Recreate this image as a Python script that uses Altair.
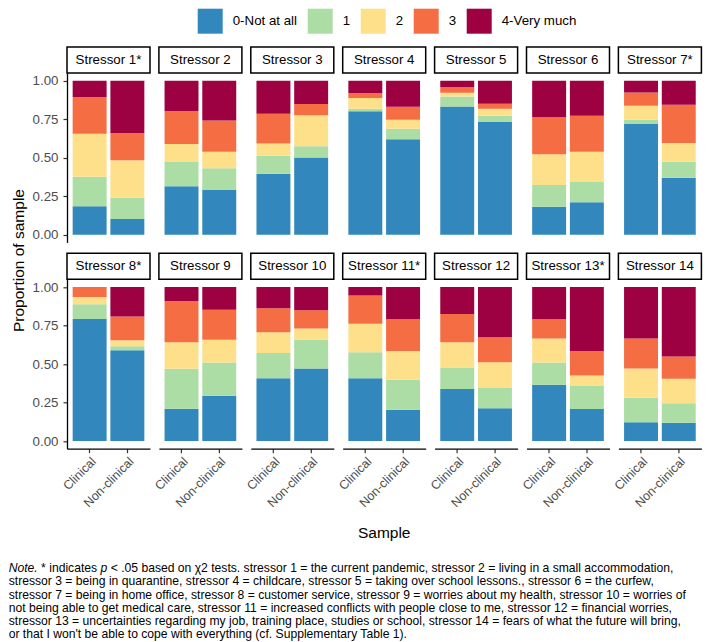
import altair as alt
import pandas as pd

FONT = "Liberation Sans"

stressors = ["Stressor 1*", "Stressor 2", "Stressor 3", "Stressor 4", "Stressor 5",
             "Stressor 6", "Stressor 7*", "Stressor 8*", "Stressor 9", "Stressor 10",
             "Stressor 11*", "Stressor 12", "Stressor 13*", "Stressor 14"]
samples = ["Clinical", "Non-clinical"]
levels = ["0-Not at all", "1", "2", "3", "4-Very much"]
colors = ["#3288BD", "#ABDDA4", "#FEE08B", "#F46D43", "#9E0142"]
x_title = "Sample"
y_title = "Proportion of sample"

clinical_0 = [.184, .314, .396, .801, .833, .182, .719, .793, .209, .408, .408, .338, .366, .121]
clinical_1 = [.193, .158, .117, .017, .065, .141, .028, .095, .260, .164, .169, .139, .144, .160]
clinical_2 = [.279, .117, .080, .069, .024, .199, .091, .047, .172, .134, .185, .164, .155, .189]
clinical_3 = [.238, .214, .193, .033, .035, .240, .086, .065, .268, .156, .182, .184, .125, .195]
clinical_4 = [.106, .197, .214, .080, .043, .238, .076, .000, .091, .138, .056, .175, .210, .335]

nonclinical_0 = [.102, .290, .502, .619, .732, .210, .370, .590, .294, .470, .203, .212, .208, .119]
nonclinical_1 = [.138, .141, .072, .069, .041, .132, .104, .026, .216, .189, .194, .132, .149, .126]
nonclinical_2 = [.243, .108, .201, .059, .045, .197, .121, .038, .147, .071, .188, .168, .069, .160]
nonclinical_3 = [.177, .203, .073, .084, .033, .234, .249, .154, .196, .119, .206, .162, .159, .144]
nonclinical_4 = [.340, .258, .152, .169, .149, .227, .156, .192, .147, .151, .209, .326, .415, .451]

note_line1_parts = ["Note.", "* indicates", "p",
                    "< .05 based on \u03c72 tests. stressor 1 = the current pandemic, stressor 2 = living in a small accommodation,"]
note_lines_rest = [
    "stressor 3 = being in quarantine, stressor 4 = childcare, stressor 5 = taking over school lessons., stressor 6 = the curfew,",
    "stressor 7 = being in home office, stressor 8 = customer service, stressor 9 = worries about my health, stressor 10 = worries of",
    "not being able to get medical care, stressor 11 = increased conflicts with people close to me, stressor 12 = financial worries,",
    "stressor 13 = uncertainties regarding my job, training place, studies or school, stressor 14 = fears of what the future will bring,",
    "or that I won't be able to cope with everything (cf. Supplementary Table 1).",
]

# ---- build table
series = {
    "Clinical": [clinical_0, clinical_1, clinical_2, clinical_3, clinical_4],
    "Non-clinical": [nonclinical_0, nonclinical_1, nonclinical_2, nonclinical_3, nonclinical_4],
}
rows = []
for si, st in enumerate(stressors):
    for sm in samples:
        for li, lv in enumerate(levels):
            rows.append({"stressor": st, "sample": sm, "level": lv, "idx": li,
                         "value": series[sm][li][si]})
df = pd.DataFrame(rows)

PW, PH = 83, 169.4
STRIP = 26
ROWGAP = 36.3
NCOL = 7

one = "datum.idx == 0 && datum.sample == 'Clinical'"


def make_panel(i):
    r, c = divmod(i, NCOL)
    xaxis = alt.Axis(labelAngle=-45, labelAlign="right", labelBaseline="top",
                     labelPadding=2, labelOverlap=False, labelFontSize=12.5) if r == 1 else None
    yaxis = alt.Axis(values=[0, 0.25, 0.5, 0.75, 1.0], format=".2f", labelPadding=5) if c == 0 else None
    bars = alt.Chart().mark_bar().encode(
        x=alt.X("sample:N", sort=samples, title=None,
                scale=alt.Scale(paddingInner=0.1, paddingOuter=0.15), axis=xaxis),
        y=alt.Y("value:Q", stack="zero", title=None,
                scale=alt.Scale(domain=[-0.05, 1.05], nice=False, zero=False), axis=yaxis),
        color=alt.Color("level:N", sort=levels,
                        scale=alt.Scale(domain=levels, range=colors),
                        legend=alt.Legend(title=None, orient="none", direction="horizontal",
                                          columns=5, legendX=130.7, legendY=-64.3)),
        order=alt.Order("idx:Q", sort="ascending"),
    )
    strip = alt.Chart().transform_filter(one)
    strip_box = strip.mark_rect(fill="white", stroke="black", strokeWidth=1.5).encode(
        x=alt.value(0), x2=alt.value(PW), y=alt.value(-STRIP), y2=alt.value(0))
    strip_txt = strip.mark_text(font=FONT, fontSize=13.3, color="black").encode(
        x=alt.value(PW / 2), y=alt.value(-STRIP / 2), text="stressor:N")
    layers = [bars, strip_box, strip_txt]
    if i == 0:
        layers.append(strip.mark_text(font=FONT, fontSize=15.5, color="black", angle=270,
                                      text=y_title).encode(
            x=alt.value(-47.8), y=alt.value(PH + ROWGAP / 2)))
    if i == 10:
        layers.append(strip.mark_text(font=FONT, fontSize=15.5, color="black",
                                      text=x_title).encode(
            x=alt.value(PW / 2), y=alt.value(PH + 84)))
    return alt.layer(*layers, data=df).transform_filter(
        alt.datum.stressor == stressors[i]).properties(width=PW, height=PH)


grid = alt.concat(*[make_panel(i) for i in range(len(stressors))], columns=NCOL,
                  spacing=alt.RowColnumber(row=ROWGAP, column=8.9), bounds="flush")

# ---- note (Arial-metric widths to place the italic pieces)
W = {" ": 278, "*": 389, ".": 278, "N": 722, "o": 556, "t": 278, "e": 556, "i": 222,
     "n": 556, "d": 556, "c": 500, "a": 556, "s": 500, "p": 556}
NFS = 12.15


def tw(s):
    return sum(W.get(ch, 556) for ch in s) * NFS / 1000.0


NOTE_X0 = -58.3
offs = [0.0]
for part in note_line1_parts[:-1]:
    offs.append(offs[-1] + tw(part) + tw(" "))

LH = 13.25
yscale = alt.Scale(domain=[0, 5], range=[7, 7 + 5 * LH])
note_layers = []
for k, part in enumerate(note_line1_parts):
    italic = k in (0, 2)
    note_layers.append(
        alt.Chart(pd.DataFrame({"line": [0], "t": [part]})).mark_text(
            font=FONT, fontSize=NFS, align="left", baseline="middle", color="black",
            fontStyle="italic" if italic else "normal").encode(
            x=alt.value(NOTE_X0 + offs[k]),
            y=alt.Y("line:Q", scale=yscale, axis=None),
            text="t:N"))
note_layers.append(
    alt.Chart(pd.DataFrame({"line": list(range(1, 6)), "t": note_lines_rest})).mark_text(
        font=FONT, fontSize=NFS, align="left", baseline="middle", color="black").encode(
        x=alt.value(NOTE_X0),
        y=alt.Y("line:Q", scale=yscale, axis=None),
        text="t:N"))
note = alt.layer(*note_layers).properties(width=600, height=80)

chart = alt.vconcat(grid, note, spacing=19).configure_view(stroke=None).configure_axis(
    labelFont=FONT, titleFont=FONT, labelFontSize=13.3, labelColor="#4D4D4D",
    titleFontSize=15.5, titleColor="black", titleFontWeight="normal",
    domainColor="black", domainWidth=1.3, tickColor="#333333", tickSize=4, tickWidth=1.2,
    grid=False,
).configure_legend(
    labelFont=FONT, labelFontSize=13.3, labelColor="black", symbolType="square",
    symbolSize=625, symbolStrokeWidth=0, symbolOpacity=1, labelOffset=10, columnPadding=10,
).properties(padding={"left": 0, "top": 0, "right": 0, "bottom": 0}, background="white")

chart.save("out.html", embed_options={"renderer": "svg", "actions": False})
